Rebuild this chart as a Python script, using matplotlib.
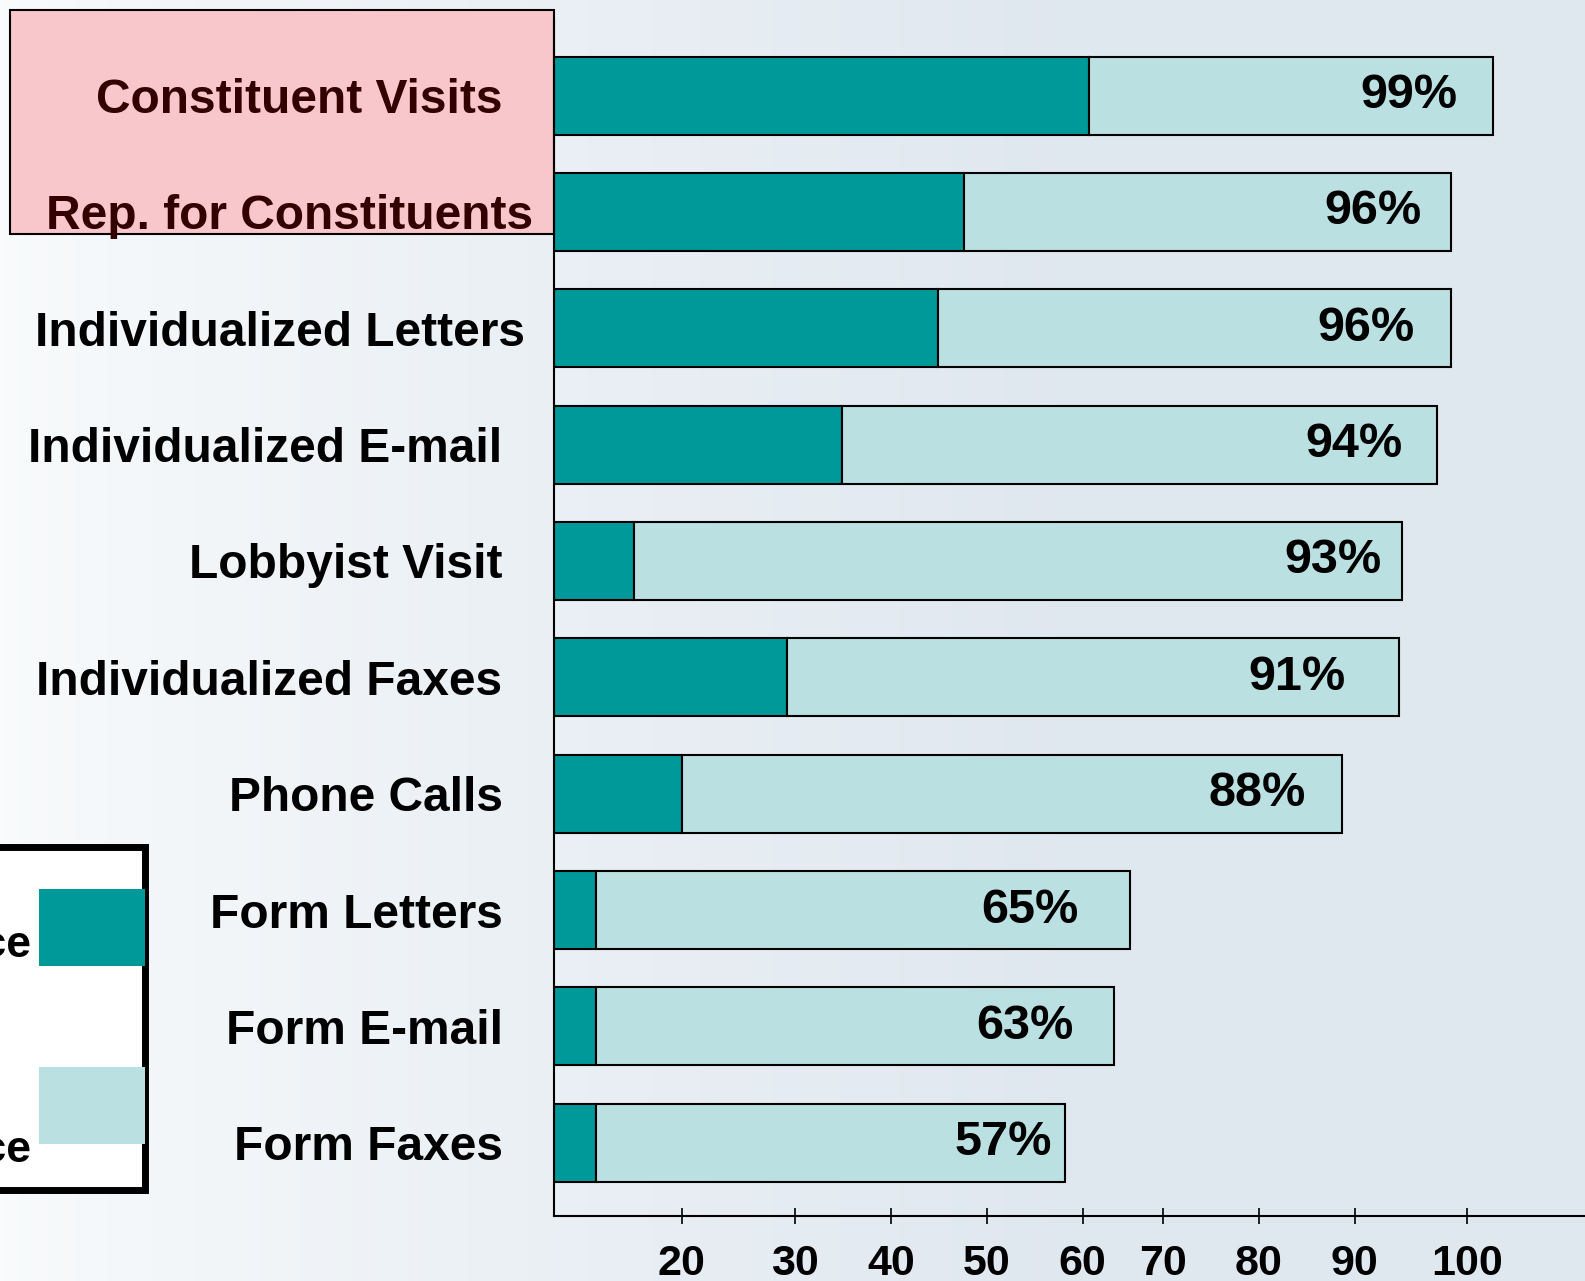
import numpy as np
import matplotlib
matplotlib.use('Agg')
import matplotlib.pyplot as plt
from matplotlib.patches import Rectangle

plt.rcParams['font.family'] = ['Liberation Sans', 'DejaVu Sans']
plt.rcParams['font.weight'] = 'bold'

# data (bar lengths read against the chart's own axis units)
categories = ['Constituent Visits', 'Rep. for Constituents', 'Individualized Letters',
              'Individualized E-mail', 'Lobbyist Visit', 'Individualized Faxes',
              'Phone Calls', 'Form Letters', 'Form E-mail', 'Form Faxes']
strong = np.array([58.6, 44.9, 42.1, 31.5, 8.8, 25.5, 14.0, 4.6, 4.6, 4.6])
total = np.array([102.8, 98.2, 98.2, 96.7, 92.9, 92.5, 86.3, 63.1, 61.3, 56.0])
pct_labels = ['99%', '96%', '96%', '94%', '93%', '91%', '88%', '65%', '63%', '57%']
tick_pos = [14.0, 26.4, 36.9, 47.4, 57.9, 66.7, 77.2, 87.7, 100.0]
tick_labels = ['20', '30', '40', '50', '60', '70', '80', '90', '100']
legend_labels = ['A Lot of Influence', 'Some Influence']

# layout: gap (pt) between bar end and its % label, as placed in the original
label_gap = [25, 21, 26, 25, 15, 38, 26, 37, 29, 9.5]

dark = '#009999'
light = '#bbe0e2'
W, H = 1585, 1281

fig = plt.figure(figsize=(W / 100, H / 100), dpi=100)

# background gradient
bg = fig.add_axes([0, 0, 1, 1], zorder=-2)
t = np.linspace(0, 1, 400)
t = np.clip(t / 0.7, 0, 1) ** 0.8
c0 = np.array([249, 251, 252]) / 255
c1 = np.array([223, 231, 239]) / 255
grad = c0[None, :] + (c1 - c0)[None, :] * t[:, None]
bg.imshow(grad[None, :, :], aspect='auto', extent=[0, 1, 0, 1])
bg.axis('off')

# pink box behind the first two labels
fig.patches.append(Rectangle((10 / W, 1 - 234 / H), 544 / W, 224 / H, transform=fig.transFigure,
                             facecolor='#f8c7cb', edgecolor='black', linewidth=1.5, zorder=-1))

ax = fig.add_axes([554 / W, 1 - 1216 / H, 1 - 554 / W, (1216 - 20) / H])
ax.patch.set_alpha(0)
y = np.arange(len(categories))
ax.barh(y, strong, height=0.67, color=dark, edgecolor='black', linewidth=1.5)
ax.barh(y, total - strong, left=strong, height=0.67, color=light, edgecolor='black', linewidth=1.5)

for yi, tot, lab, gap in zip(y, total, pct_labels, label_gap):
    ax.annotate(lab, (tot, yi), xytext=(-gap, 0), textcoords='offset points',
                ha='right', va='center', fontsize=35, fontweight='bold')

ax.set_xlim(0, (W - 554) / 9.13)
ax.set_ylim(9.63, -0.65)
ax.set_yticks(y)
ax.set_yticklabels(categories, fontsize=34.5, fontweight='bold')
ax.tick_params(axis='y', length=0, pad=37)
for lbl in ax.get_yticklabels()[:2]:
    lbl.set_color('#330000')
# two labels sit a little further right in the original
yt = ax.yaxis.get_major_ticks()
yt[1].set_pad(15)
yt[2].set_pad(21)

ax.set_xticks(tick_pos)
ax.set_xticklabels(tick_labels, fontsize=31, fontweight='bold')
ax.tick_params(axis='x', direction='inout', length=12, width=1.2, pad=14)
for s in ['top', 'right']:
    ax.spines[s].set_visible(False)
for s in ['left', 'bottom']:
    ax.spines[s].set_linewidth(1.5)

# legend box, partly off the left edge
fig.patches.append(Rectangle((-20 / W, 1 - 1190 / H), 165 / W, 343 / H, transform=fig.transFigure,
                             facecolor='white', edgecolor='black', linewidth=5, zorder=1))
for (top, col, lab, base) in [(889, dark, legend_labels[0], 957), (1067, light, legend_labels[1], 1162)]:
    fig.patches.append(Rectangle((39 / W, 1 - (top + 77) / H), 106 / W, 77 / H,
                                 transform=fig.transFigure, facecolor=col, edgecolor='none', zorder=2))
    fig.text(31 / W, 1 - base / H, lab, ha='right', va='baseline', fontsize=32, fontweight='bold', zorder=3)

fig.savefig('out.png', dpi=100)
